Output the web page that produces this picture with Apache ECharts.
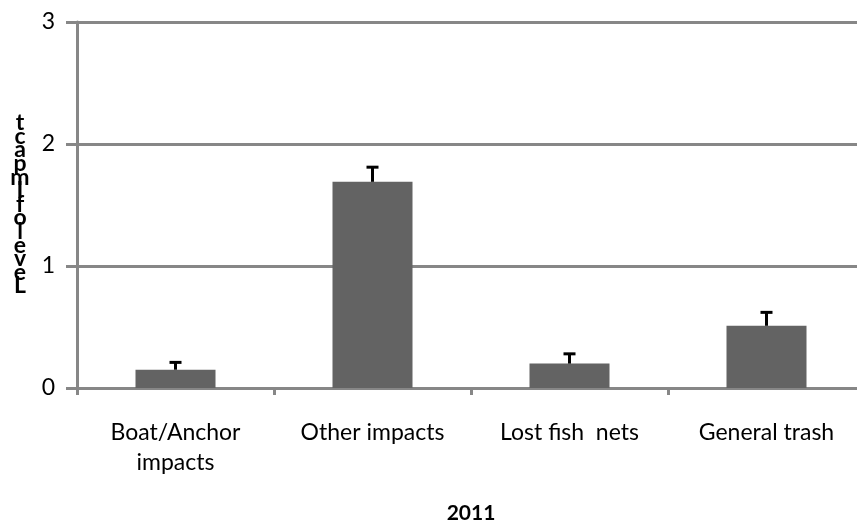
<!DOCTYPE html>
<html>
<head>
<meta charset="utf-8">
<script src="https://cdn.jsdelivr.net/npm/echarts@6/dist/echarts.min.js"></script>
<style>html,body{margin:0;padding:0;background:#fff;overflow:hidden}#c{width:857px;height:523px}</style>
</head>
<body>
<div id="c"></div>
<script>
var categories = ['Boat/Anchor\nimpacts', 'Other impacts', 'Lost fish  nets', 'General trash'];
var values = [0.15, 1.69, 0.20, 0.51];
var errors = [0.06, 0.12, 0.08, 0.11];
var yTicks = [0, 1, 2, 3];
var xTitle = '2011';
var yTitle = 'LevelofImpact';

var FONT = 'Lato, Carlito, "Open Sans", sans-serif';
var GRAY = '#878787';
var chart = echarts.init(document.getElementById('c'));

var errData = values.map(function (v, i) { return [i, v, v + errors[i]]; });
var stacked = yTitle.split('').reverse().join('\n');

chart.setOption({
  animation: false,
  backgroundColor: '#fff',
  grid: { left: 77, right: -8, top: 22, bottom: 135, containLabel: false, outerBoundsMode: 'none' },
  xAxis: {
    type: 'category',
    data: categories,
    name: xTitle,
    nameLocation: 'middle',
    nameGap: 115,
    nameTextStyle: { fontFamily: FONT, fontWeight: 'bold', fontSize: 21, color: '#000' },
    axisLine: { lineStyle: { color: GRAY, width: 3 } },
    axisTick: { show: true, length: 7, lineStyle: { color: GRAY, width: 3 } },
    axisLabel: { fontFamily: FONT, fontSize: 23, color: '#000', margin: 30, lineHeight: 30, interval: 0 }
  },
  yAxis: {
    type: 'value',
    min: yTicks[0],
    max: yTicks[yTicks.length - 1],
    interval: 1,
    axisLine: { show: true, lineStyle: { color: GRAY, width: 3 } },
    axisTick: { show: true, length: 11, lineStyle: { color: GRAY, width: 3 } },
    splitLine: { show: true, lineStyle: { color: GRAY, width: 3 } },
    axisLabel: { fontFamily: FONT, fontSize: 23, color: '#000', margin: 22 }
  },
  graphic: [{
    type: 'text',
    x: 20,
    y: 116,
    style: {
      text: stacked,
      fontFamily: FONT,
      fontWeight: 'bold',
      fontSize: 23,
      lineHeight: 13.6,
      fill: '#000',
      align: 'center',
      verticalAlign: 'top'
    }
  }],
  series: [{
    type: 'bar',
    data: values,
    barWidth: 80,
    itemStyle: { color: '#636363' }
  }, {
    type: 'custom',
    data: errData,
    z: 5,
    renderItem: function (params, api) {
      var x = api.value(0);
      var p0 = api.coord([x, api.value(1)]);
      var p1 = api.coord([x, api.value(2)]);
      var hw = 6;
      return {
        type: 'group',
        children: [
          { type: 'line', shape: { x1: p0[0], y1: p0[1], x2: p1[0], y2: p1[1] }, style: { stroke: '#000', lineWidth: 3 } },
          { type: 'line', shape: { x1: p1[0] - hw, y1: p1[1], x2: p1[0] + hw, y2: p1[1] }, style: { stroke: '#000', lineWidth: 3 } }
        ]
      };
    }
  }]
});
</script>
</body>
</html>
